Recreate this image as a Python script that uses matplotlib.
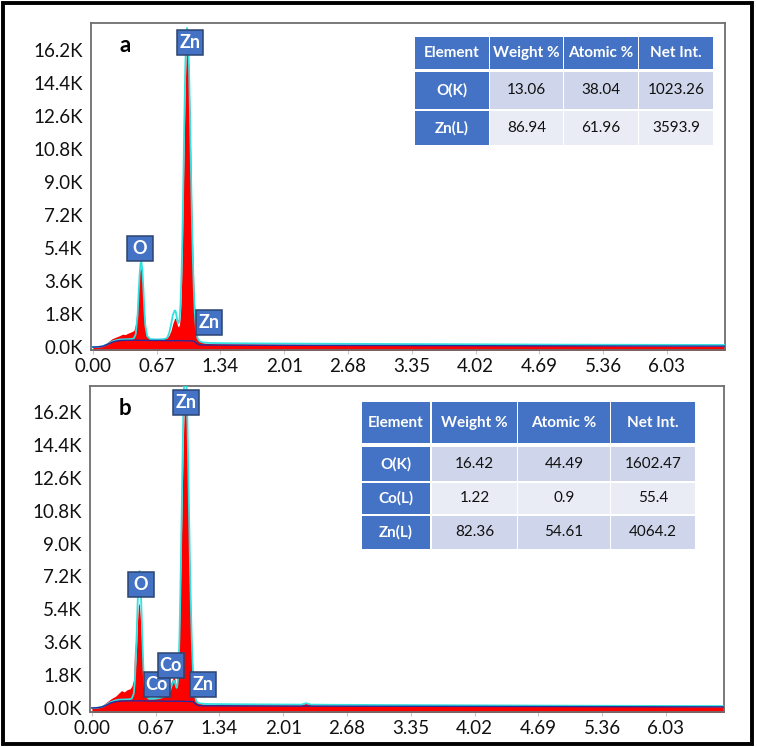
import matplotlib
matplotlib.use("Agg")
import matplotlib.pyplot as plt
from matplotlib.patches import Rectangle
from matplotlib.ticker import FuncFormatter

plt.rcParams["font.family"] = ["Lato", "DejaVu Sans"]

# x ticks / y ticks shared by both spectra
x_ticks = [0.00, 0.67, 1.34, 2.01, 2.68, 3.35, 4.02, 4.69, 5.36, 6.03]
y_ticks = [0, 1800, 3600, 5400, 7200, 9000, 10800, 12600, 14400, 16200]

# spectrum (a): ZnO
energy_a = [0.00, 0.05, 0.10, 0.15, 0.20, 0.25, 0.28, 0.31, 0.34, 0.37, 0.40, 0.43, 0.45, 0.47, 0.48,
            0.49, 0.50, 0.51, 0.52, 0.53, 0.54, 0.55, 0.57, 0.60, 0.65, 0.70, 0.75, 0.78, 0.80, 0.82,
            0.84, 0.86, 0.87, 0.88, 0.89, 0.90, 0.91, 0.92, 0.93, 0.94, 0.95, 0.96, 0.97, 0.98, 0.99,
            1.00, 1.01, 1.02, 1.03, 1.04, 1.05, 1.06, 1.07, 1.08, 1.09, 1.10, 1.12, 1.15, 1.20, 1.30,
            1.50, 2.00, 2.50, 3.00, 3.50, 4.00, 4.50, 5.00, 5.50, 6.00, 6.64]
counts_a = [0, 10, 60, 250, 450, 560, 620, 700, 680, 760, 820, 900, 1300, 2400, 3300,
            4100, 4350, 4200, 3600, 2700, 1800, 1100, 620, 450, 420, 430, 470, 520, 650, 900,
            1300, 1580, 1550, 1350, 1150, 1100, 1250, 1800, 3200, 5500, 8500, 11500, 14200, 15900, 16400,
            16100, 14800, 12500, 9800, 7200, 5000, 3300, 2100, 1300, 800, 520, 330, 240, 200, 180,
            170, 150, 135, 125, 115, 105, 95, 85, 75, 65, 55]
fit_a = [0, 10, 40, 150, 300, 380, 410, 420, 425, 430, 440, 470, 700, 1800, 2900,
         3900, 4550, 4650, 4200, 3200, 2100, 1200, 600, 440, 420, 420, 440, 500, 750, 1200,
         1750, 2000, 1950, 1650, 1350, 1300, 1500, 2300, 3800, 6000, 9000, 12300, 15200, 17000, 17400,
         16900, 15200, 12600, 9700, 7000, 4800, 3100, 1900, 1150, 700, 470, 320, 260, 230, 215,
         205, 190, 180, 170, 160, 150, 140, 130, 125, 120, 115]

# spectrum (b): Co-doped ZnO
energy_b = [0.00, 0.05, 0.10, 0.15, 0.20, 0.25, 0.28, 0.31, 0.34, 0.37, 0.40, 0.42, 0.44, 0.45, 0.46,
            0.47, 0.48, 0.49, 0.50, 0.51, 0.52, 0.53, 0.54, 0.55, 0.57, 0.60, 0.65, 0.70, 0.75, 0.78,
            0.80, 0.82, 0.84, 0.86, 0.87, 0.88, 0.89, 0.90, 0.91, 0.92, 0.93, 0.94, 0.95, 0.96, 0.97,
            0.98, 0.99, 1.00, 1.01, 1.02, 1.03, 1.04, 1.05, 1.06, 1.07, 1.08, 1.09, 1.10, 1.12, 1.15,
            1.20, 1.50, 2.00, 2.20, 2.25, 2.30, 2.50, 3.00, 3.50, 4.00, 4.50, 5.00, 5.50, 6.00, 6.64]
counts_b = [0, 20, 100, 300, 500, 650, 800, 950, 880, 1000, 1050, 1200, 1600, 3700, 2300,
            3400, 4800, 5750, 5600, 4900, 3900, 2800, 1900, 1200, 700, 560, 560, 600, 680, 820,
            1000, 1250, 1500, 1700, 1600, 1350, 1300, 1500, 2600, 4200, 6500, 9200, 12000, 14600, 16300,
            16700, 16200, 14600, 12300, 9700, 7200, 5000, 3300, 2100, 1300, 800, 520, 380, 290, 230,
            200, 180, 165, 160, 270, 165, 150, 140, 130, 120, 110, 100, 90, 80, 70]
fit_b = [0, 10, 50, 170, 330, 420, 450, 460, 465, 470, 480, 520, 800, 1400, 2500,
         4000, 5700, 7000, 7500, 6900, 5500, 3800, 2300, 1300, 650, 500, 500, 530, 600, 680,
         780, 950, 1250, 1500, 1450, 1250, 1100, 1300, 2200, 3900, 6500, 9700, 13000, 16000, 18000,
         18800, 18400, 16600, 13800, 10800, 7900, 5500, 3600, 2200, 1300, 780, 480, 340, 270, 240,
         220, 205, 190, 185, 260, 185, 175, 165, 155, 145, 135, 125, 118, 112, 105]

# background lines
energy_bkg = [0, 0.05, 0.1, 0.15, 0.2, 0.25, 0.3, 0.4, 0.5, 0.6, 0.7, 0.8, 0.9, 1.0, 1.06, 1.09,
              1.12, 1.2, 2, 3, 4, 5, 6, 6.64]
bkg_a = [0, 10, 40, 140, 260, 330, 360, 370, 370, 360, 360, 350, 350, 340, 330, 200,
         120, 110, 95, 85, 75, 65, 55, 50]
bkg_b = [0, 10, 50, 150, 280, 350, 380, 390, 390, 380, 380, 370, 370, 360, 350, 210,
         130, 120, 105, 95, 85, 75, 65, 60]

# peak labels (text, keV, counts)
labels_a = [("Zn", 1.02, 16600), ("O", 0.494, 5350), ("Zn", 1.22, 1360)]
labels_b = [("Zn", 0.988, 16700), ("O", 0.515, 6780), ("Co", 0.683, 1310),
            ("Co", 0.83, 2300), ("Zn", 1.167, 1310)]

# quantification tables
table_header = ["Element", "Weight %", "Atomic %", "Net Int."]
table_a = [["O(K)", "13.06", "38.04", "1023.26"],
           ["Zn(L)", "86.94", "61.96", "3593.9"]]
table_b = [["O(K)", "16.42", "44.49", "1602.47"],
           ["Co(L)", "1.22", "0.9", "55.4"],
           ["Zn(L)", "82.36", "54.61", "4064.2"]]

W, H = 757, 747
BLUE = "#4472C4"


def fig_box(x0, y0, x1, y1):
    return [x0 / W, 1 - y1 / H, (x1 - x0) / W, (y1 - y0) / H]


def draw_panel(ax, energy, counts, fit, bkg, labels, letter, ylim, hpx):
    xlim = (-0.02, 6.64)
    ax.fill_between(energy, -2000, counts, color="red", lw=0, zorder=2)
    ax.plot(energy, fit, color="#33e0e0", lw=1.3, zorder=3)
    ax.plot(energy_bkg, bkg, color="#2a2a9a", lw=1.0, zorder=4)
    ax.set_xlim(xlim)
    ax.set_ylim(ylim)
    ax.set_xticks(x_ticks)
    ax.set_xticklabels([f"{t:.2f}" for t in x_ticks])
    ax.set_yticks(y_ticks)
    ax.yaxis.set_major_formatter(FuncFormatter(lambda v, p: f"{v / 1000:.1f}K"))
    ax.tick_params(axis="y", length=0, pad=6, labelsize=13.5, labelcolor="#111111")
    ax.tick_params(axis="x", length=3, color="#c8c8c8", pad=3, labelsize=13.5, labelcolor="#111111")
    for s in ax.spines.values():
        s.set_color("#6e6e6e")
        s.set_linewidth(1.3)
    ax.text(0.045, 0.93, letter, transform=ax.transAxes, fontsize=16, fontweight="bold",
            ha="left", va="center", zorder=6)
    # label boxes, 26 x 25 px
    dx = 26 * (xlim[1] - xlim[0]) / 634
    dy = 25 * (ylim[1] - ylim[0]) / hpx
    for txt, x, y in labels:
        ax.add_patch(Rectangle((x - dx / 2, y - dy / 2), dx, dy, fc=BLUE, ec="#2b4470",
                               lw=1.1, zorder=7, clip_on=False))
        ax.text(x, y, txt, color="white", fontsize=13, fontweight="bold",
                ha="center", va="center", zorder=8)


def draw_table(cols, rows, header, body):
    all_rows = [header] + body
    for r, (y0, y1) in enumerate(rows):
        for c, (x0, x1) in enumerate(cols):
            if r == 0 or c == 0:
                fc = BLUE
                color, weight = "white", "bold"
            else:
                fc = "#cfd5ea" if r % 2 == 1 else "#e9ebf5"
                color, weight = "#111111", "normal"
            fig.add_artist(Rectangle((x0 / W, 1 - y1 / H), (x1 - x0) / W, (y1 - y0) / H,
                                     transform=fig.transFigure, fc=fc, ec="none", zorder=10))
            fig.text((x0 + x1) / 2 / W, 1 - (y0 + y1) / 2 / H, all_rows[r][c], color=color,
                     fontweight=weight, fontsize=11, ha="center", va="center", zorder=11)


fig = plt.figure(figsize=(W / 100, H / 100), dpi=100)

ax_a = fig.add_axes(fig_box(91, 23, 725, 350))
draw_panel(ax_a, energy_a, counts_a, fit_a, bkg_a, labels_a, "a", (-160, 17670), 327)

ax_b = fig.add_axes(fig_box(90, 386, 724, 712))
draw_panel(ax_b, energy_b, counts_b, fit_b, bkg_b, labels_b, "b", (-220, 17620), 326)

draw_table([(415, 489), (490, 563), (564, 638), (639, 713)],
           [(37, 69), (72, 109), (111, 145)], table_header, table_a)
draw_table([(362, 430), (432, 517), (518, 610), (611, 695)],
           [(402, 443), (447, 481), (483, 514), (516, 549)], table_header, table_b)

# outer frame
fig.add_artist(Rectangle((3 / W, 3 / H), 749 / W, 741 / H, transform=fig.transFigure,
                         fill=False, ec="black", lw=2.8))

fig.savefig("out.png", dpi=100)
